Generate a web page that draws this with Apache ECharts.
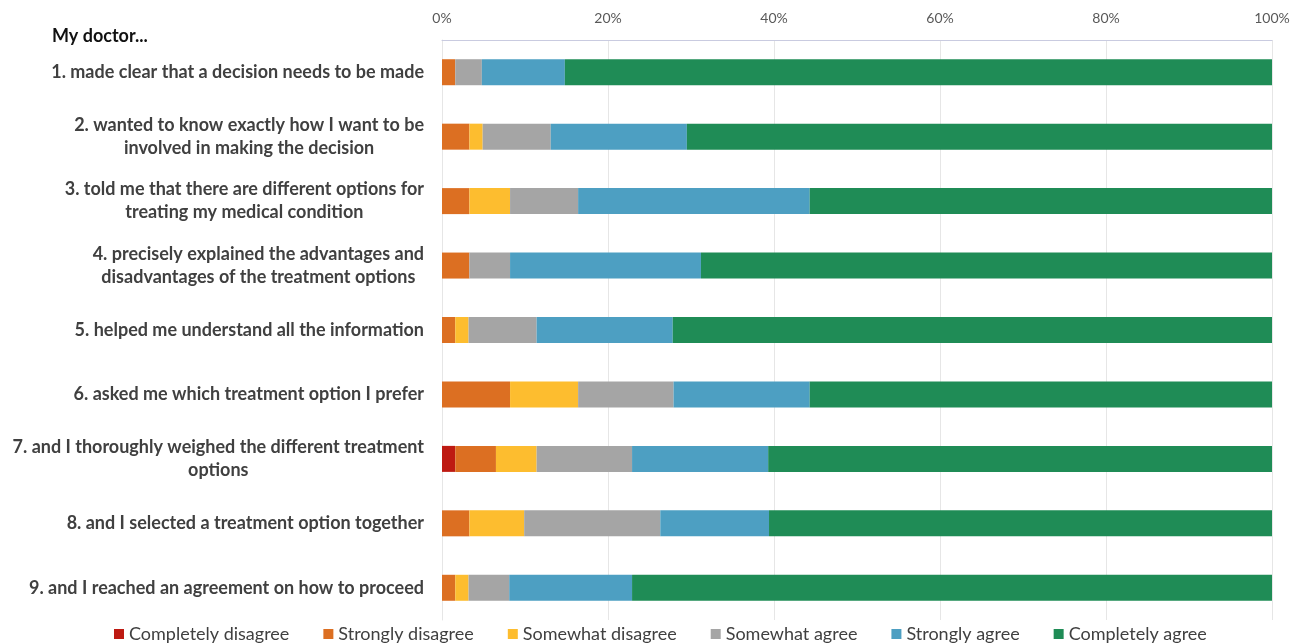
<!DOCTYPE html>
<html>
<head>
<meta charset="utf-8">
<script src="https://cdn.jsdelivr.net/npm/echarts@6/dist/echarts.min.js"></script>
<style>
    html, body { margin: 0; padding: 0; background: #fff; }
    #chart { width: 1301px; height: 644px; }
</style>
</head>
<body>
<div id="chart"></div>
<script>
    // questions, top to bottom
    const questions = [
        '1. made clear that a decision needs to be made',
        '2. wanted to know exactly how I want to be\ninvolved in making the decision',
        '3. told me that there are different options for\ntreating my medical condition',
        '4. precisely explained the advantages and\ndisadvantages of the treatment options',
        '5. helped me understand all the information',
        '6. asked me which treatment option I prefer',
        '7. and I thoroughly weighed the different treatment\noptions',
        '8. and I selected a treatment option together',
        '9. and I reached an agreement on how to proceed'
    ];

    // percent of answers per question
    const completelyDisagree = [0, 0, 0, 0, 0, 0, 1.6, 0, 0];
    const stronglyDisagree = [1.6, 3.3, 3.3, 3.3, 1.6, 8.2, 4.9, 3.3, 1.6];
    const somewhatDisagree = [0, 1.6, 4.9, 0, 1.6, 8.2, 4.9, 6.6, 1.6];
    const somewhatAgree = [3.2, 8.2, 8.2, 4.9, 8.2, 11.5, 11.5, 16.4, 4.9];
    const stronglyAgree = [10, 16.4, 27.9, 23.0, 16.4, 16.4, 16.4, 13.1, 14.8];
    const completelyAgree = [85.2, 70.5, 55.7, 68.8, 72.2, 55.7, 60.7, 60.6, 77.1];

    const tickValues = [0, 20, 40, 60, 80, 100];

    const seriesNames = ['Completely disagree', 'Strongly disagree', 'Somewhat disagree',
        'Somewhat agree', 'Strongly agree', 'Completely agree'];
    const seriesData = [completelyDisagree, stronglyDisagree, somewhatDisagree,
        somewhatAgree, stronglyAgree, completelyAgree];
    const colors = ['#be1a12', '#dc6f22', '#fdbd2f', '#a5a5a5', '#4d9fc2', '#1f8c56'];

    const font = 'Lato, "Open Sans", sans-serif';

    let chart = echarts.init(document.getElementById('chart'));

    let option = {
        animation: false,
        color: colors,
        title: {
            text: 'My doctor...',
            left: 47,
            top: 22,
            textStyle: {
                fontFamily: font,
                fontSize: 18,
                fontWeight: 'bold',
                color: '#111'
            }
        },
        grid: {
            left: 442,
            right: 29,
            top: 40,
            bottom: 24
        },
        legend: {
            top: 620,
            left: 109,
            itemWidth: 10,
            itemHeight: 10,
            itemGap: 34,
            icon: 'rect',
            textStyle: {
                fontFamily: font,
                fontSize: 18,
                color: '#404040'
            },
            data: seriesNames
        },
        xAxis: {
            type: 'value',
            position: 'top',
            min: tickValues[0],
            max: tickValues[tickValues.length - 1],
            interval: 20,
            axisLine: {
                show: true,
                lineStyle: { color: '#c9cbe0' }
            },
            axisTick: { show: false },
            axisLabel: {
                margin: 15,
                fontFamily: font,
                fontSize: 14,
                color: '#595959',
                formatter: '{value}%'
            },
            splitLine: {
                lineStyle: { color: '#e6e6e6' }
            }
        },
        yAxis: {
            type: 'category',
            inverse: true,
            data: questions,
            axisLine: {
                show: true,
                lineStyle: { color: '#e6e6e6' }
            },
            axisTick: { show: false },
            axisLabel: {
                margin: 18,
                lineHeight: 23,
                formatter: function (val) {
                    return val.split('\n').map(function (s) { return '{c|' + s + '}'; }).join('\n');
                },
                rich: {
                    c: {
                        align: 'center',
                        fontFamily: font,
                        fontSize: 18,
                        fontWeight: 'bold',
                        color: '#404040',
                        lineHeight: 23
                    }
                }
            }
        },
        series: seriesNames.map(function (name, i) {
            return {
                name: name,
                type: 'bar',
                stack: 'total',
                barWidth: 26,
                data: seriesData[i]
            };
        })
    };

    chart.setOption(option);
    window.onresize = chart.resize;
</script>
</body>
</html>
